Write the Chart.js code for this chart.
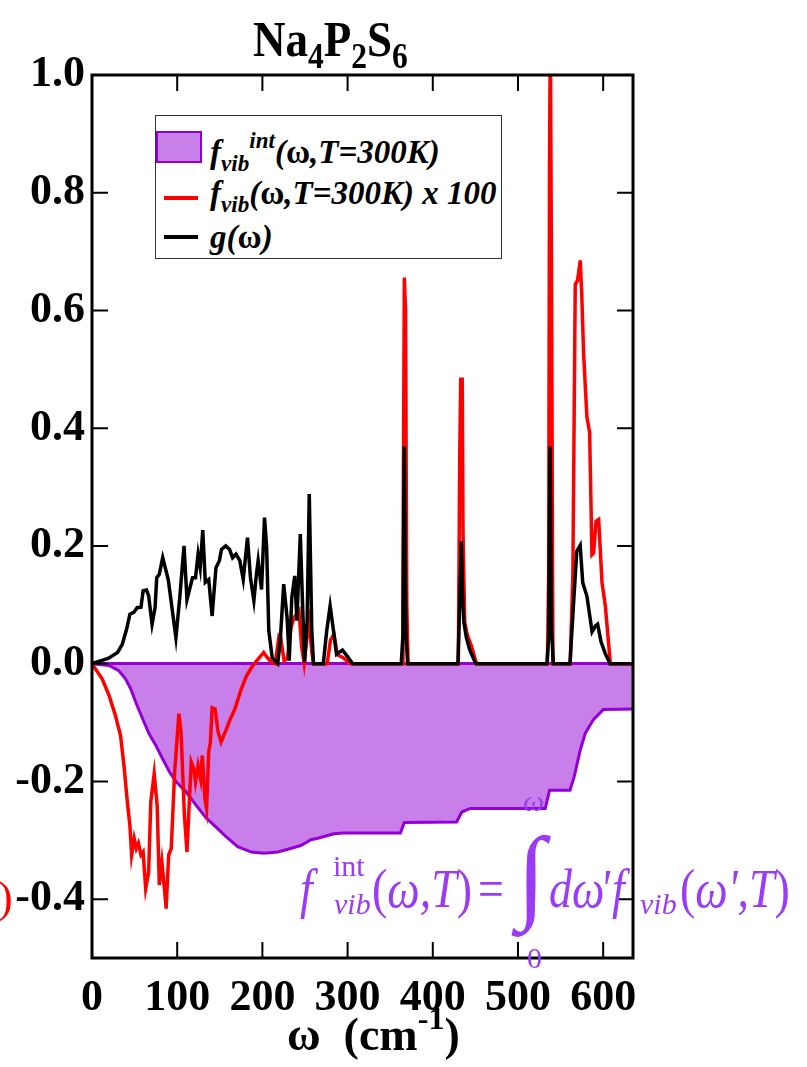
<!DOCTYPE html>
<html>
<head>
<meta charset="utf-8">
<script src="https://cdn.jsdelivr.net/npm/chart.js@4.4.1/dist/chart.umd.min.js"></script>
<style>
  html, body { margin: 0; padding: 0; background: #fff; }
  #wrap { position: relative; width: 807px; height: 1067px; overflow: hidden;
          font-family: "Liberation Serif", "Times New Roman", serif; }
  #chart { position: absolute; left: 0; top: 0; }
  .txt { position: absolute; white-space: nowrap; line-height: 1; }
  sub { font-size: 0.7em; vertical-align: -0.35em; line-height: 0; }
  sup { font-size: 0.7em; vertical-align: 0.65em; line-height: 0; }

  #title { left: 253px; top: 14px; font-size: 50px; font-weight: bold;
           transform: scaleX(0.9); transform-origin: left top; }

  #legend { position: absolute; left: 155px; top: 115px; width: 345px; height: 142px;
            border: 1.5px solid #333; background: #fff; }
  #legend .row { position: absolute; left: 54px; font-size: 33px; font-weight: bold;
                 font-style: italic; white-space: nowrap; line-height: 1; }
  #legend .up { font-style: normal; }
  #legend .swatch { position: absolute; left: 0; top: 15px; width: 42px; height: 28px;
                    background: rgba(148, 0, 211, 0.5); border: 2px solid #9400d3; }
  #legend .ln { position: absolute; left: 8px; width: 34px; height: 4px; }

  .fm { position: absolute; white-space: nowrap; line-height: 1; color: #9a3cf5;
        font-style: italic; font-size: 54px; top: 862px; }
  .fm.cx { transform: scaleX(0.85); transform-origin: left top; }
  .fm.small { font-size: 30px; }
  .fm .n { font-style: normal; }

  #xtitle { left: 287px; top: 1012px; font-size: 46px; font-weight: bold; }
  #redparen { left: -2px; top: 876px; font-size: 44px; color: #ff0000; }
</style>
</head>
<body>
<div id="wrap">
  <canvas id="chart" width="807" height="1067"></canvas>

  <div id="title" class="txt">Na<sub>4</sub>P<sub>2</sub>S<sub>6</sub></div>

  <div id="legend">
    <div class="swatch"></div>
    <div class="row" style="top:20px">f<sub>vib</sub><sup>int</sup>(<span class="up">ω</span>,T=300K)</div>
    <div class="ln" style="top:80px;background:#ff0000"></div>
    <div class="row" style="top:61px">f<sub>vib</sub>(<span class="up">ω</span>,T=300K) x 100</div>
    <div class="ln" style="top:119px;background:#000"></div>
    <div class="row" style="top:105px">g(<span class="up">ω</span>)</div>
  </div>

  <!-- f_vib^int(w,T) = int_0^w dw' f_vib(w',T) -->
  <div class="fm cx" style="left:300px">f</div>
  <div class="fm small" style="left:333px;top:851px"><span class="n">int</span></div>
  <div class="fm small" style="left:334px;top:889px">vib</div>
  <div class="fm cx" style="left:372px"><span class="n">(</span>ω,T<span class="n">)</span></div>
  <div class="fm cx" style="left:478px"><span class="n">=</span></div>
  <div class="fm" style="left:517px;top:822px;font-size:104px">∫</div>
  <div class="fm small" style="left:523px;top:786px">ω</div>
  <div class="fm small" style="left:527px;top:943px"><span class="n">0</span></div>
  <div class="fm cx" style="left:549px">dω</div>
  <div class="fm cx" style="left:600px">'</div>
  <div class="fm cx" style="left:612px">f</div>
  <div class="fm small" style="left:640px;top:889px">vib</div>
  <div class="fm cx" style="left:680px"><span class="n">(</span>ω',T<span class="n">)</span></div>

  <div id="xtitle" class="txt">ω&nbsp; (cm<sup>-1</sup>)</div>
  <div id="redparen" class="txt">)</div>
</div>

<script>
// tick values
const xTicks = [0, 100, 200, 300, 400, 500, 600];
const yTicks = [-0.4, -0.2, 0.0, 0.2, 0.4, 0.6, 0.8, 1.0];

// g(omega) - vibrational density of states
const gOmega = [0, 19, 30, 35.5, 40.5, 44.5, 49, 53, 57.5, 60, 64, 66.5, 70.5, 74, 76, 79, 83, 87, 89.5,
  98.5, 103, 108, 111.5, 118, 121.5, 124.5, 127, 130, 133, 137, 141, 145.5, 149.5, 152, 157, 161.5, 165,
  169, 173.5, 177.5, 182.5, 186, 190, 193, 195, 199, 202.5, 205, 207.5, 211.5, 218, 221, 225, 229, 231.5,
  234.5, 238, 240.5, 244.5, 247, 249.5, 252.5, 255, 258, 260, 271.5, 275.5, 279.5, 283, 287, 294, 300, 306,
  363, 365, 366.5, 368.5, 370.5, 429.5, 431.5, 433.5, 435, 436.5, 439.5, 443.5, 449.5, 451,
  534, 536, 537.7, 539.5, 541.5, 561, 565, 569, 573, 576, 581, 587, 591, 593.5, 597.5, 602.5, 608, 635];
const gValues = [0, 0.009, 0.019, 0.033, 0.058, 0.084, 0.087, 0.095, 0.096, 0.124, 0.125, 0.115, 0.067, 0.095, 0.146, 0.152, 0.18, 0.157, 0.143,
  0.044, 0.112, 0.20, 0.109, 0.146, 0.146, 0.186, 0.163, 0.227, 0.138, 0.143, 0.081, 0.163, 0.175, 0.194, 0.20, 0.194, 0.18,
  0.186, 0.175, 0.143, 0.214, 0.146, 0.107, 0.152, 0.175, 0.126, 0.248, 0.197, 0.056, 0.01, 0, 0.039, 0.135, 0.078, 0.005,
  0.112, 0.149, 0.073, 0.22, 0.107, 0.002, 0.073, 0.288, 0.056, 0, 0, 0.056, 0.098, 0.061, 0.016, 0.023, 0.012, 0,
  0, 0.05, 0.369, 0.05, 0, 0, 0.097, 0.208, 0.117, 0.07, 0.044, 0.023, 0.003, 0,
  0, 0.044, 0.369, 0.057, 0, 0, 0.097, 0.191, 0.201, 0.138, 0.114, 0.054, 0.064, 0.067, 0.037, 0.017, 0, 0];

// f_vib(omega, T=300K) x 100
const fvibOmega = [0, 12, 20, 27.5, 33.5, 37.5, 41.5, 44.5, 46.5, 49.5, 52, 54.5, 57.5, 60, 63, 66.5, 69, 73, 76.5,
  79, 82, 85, 87, 90, 93, 97, 102, 104.5, 108.5, 111.5, 114, 116.5, 119.5, 121.5, 124.5, 127.5, 129.5, 132.5,
  134.5, 137, 139, 141, 144.5, 148, 151.5, 157.5, 162, 167.5, 175, 181, 187, 194.5, 201.5, 206, 211, 215,
  219.5, 221.5, 225.5, 229.5, 233.5, 237, 243, 246, 249, 252, 255, 258, 260, 276, 280, 284, 288, 295, 303,
  364, 365, 366.6, 368, 369.5, 371, 430, 431.6, 432.8, 434.6, 435.5, 437.5, 440.3, 445.4, 451.3,
  534.5, 536, 537, 538, 539.5, 541, 561.3, 564.4, 567.2, 569.9, 573.1, 575, 577, 580.9, 584.1, 586.8, 588.8,
  591.6, 594.7, 598.6, 602.6, 608.4, 635];
const fvibValues = [0, -0.026, -0.054, -0.088, -0.122, -0.173, -0.235, -0.275, -0.325, -0.297, -0.314, -0.305, -0.325, -0.32, -0.382, -0.354, -0.235, -0.187, -0.241,
  -0.376, -0.337, -0.382, -0.416, -0.325, -0.314, -0.184, -0.085, -0.116, -0.258, -0.32, -0.241, -0.167, -0.179, -0.201, -0.173, -0.196, -0.156, -0.229,
  -0.246, -0.15, -0.133, -0.075, -0.077, -0.116, -0.133, -0.112, -0.095, -0.078, -0.044, -0.022, -0.007, 0.007, 0.019, 0.01, 0.002, 0,
  0.047, 0.044, 0.005, 0.01, 0.061, 0.078, 0.09, 0.03, 0, 0.04, 0.07, 0.02, 0, 0, 0.04, 0.05, 0.015, 0.01, 0,
  0, 0.15, 0.656, 0.6, 0.1, 0, 0, 0.35, 0.483, 0.483, 0.22, 0.07, 0.05, 0.03, 0,
  0, 0.15, 0.85, 1.08, 0.6, 0, 0, 0.151, 0.644, 0.651, 0.685, 0.621, 0.527, 0.419, 0.393, 0.185, 0.188,
  0.242, 0.245, 0.138, 0.097, 0, 0];

// f_vib^int(omega, T=300K)
const fintOmega = [0, 20, 31.5, 39.5, 45.5, 51.5, 59.5, 67, 75, 83, 91, 99, 110.5, 122.5, 134.5, 146, 156, 171, 187,
  202, 218, 233, 245, 252.5, 256.5, 264, 284, 295, 362, 366.5, 428, 434, 444, 532, 537, 561, 566, 573, 579,
  588.5, 600, 635];
const fintValues = [0, -0.003, -0.012, -0.026, -0.043, -0.066, -0.094, -0.119, -0.139, -0.162, -0.184, -0.201, -0.218, -0.241, -0.263, -0.278, -0.292, -0.311, -0.32,
  -0.322, -0.32, -0.314, -0.309, -0.303, -0.299, -0.297, -0.289, -0.2875, -0.2875, -0.27, -0.269, -0.252, -0.246, -0.246, -0.215, -0.215, -0.192, -0.147, -0.118,
  -0.095, -0.078, -0.077];

const toPoints = (xs, ys) => xs.map((x, i) => ({ x: x, y: ys[i] }));

const tickFont = { family: "'Liberation Serif', 'Times New Roman', serif", weight: 'bold', size: 44 };

// frame + inward ticks on all four sides
const frameTicks = {
  id: 'frameTicks',
  afterDatasetsDraw(chart) {
    const { ctx, chartArea: a, scales: { x, y } } = chart;
    ctx.save();
    ctx.strokeStyle = '#000';
    ctx.lineWidth = 2;
    ctx.beginPath();
    xTicks.forEach(v => {
      const px = x.getPixelForValue(v);
      ctx.moveTo(px, a.bottom); ctx.lineTo(px, a.bottom - 16);
      ctx.moveTo(px, a.top); ctx.lineTo(px, a.top + 16);
    });
    yTicks.forEach(v => {
      const py = y.getPixelForValue(v);
      ctx.moveTo(a.left, py); ctx.lineTo(a.left + 16, py);
      ctx.moveTo(a.right, py); ctx.lineTo(a.right - 16, py);
    });
    ctx.stroke();
    ctx.lineWidth = 3;
    ctx.strokeRect(a.left, a.top, a.right - a.left, a.bottom - a.top);
    ctx.restore();
  }
};

const ctx = document.getElementById('chart').getContext('2d');
new Chart(ctx, {
  type: 'line',
  data: {
    datasets: [
      {
        label: 'g(ω)',
        data: toPoints(gOmega, gValues),
        borderColor: '#000000',
        borderWidth: 3.5,
        pointRadius: 0,
        fill: false,
        order: 0,
        clip: 0
      },
      {
        label: 'f_vib(ω,T=300K) x 100',
        data: toPoints(fvibOmega, fvibValues),
        borderColor: '#ff0000',
        borderWidth: 3.5,
        pointRadius: 0,
        fill: false,
        order: 1,
        clip: 0
      },
      {
        label: 'f_vib^int(ω,T=300K)',
        data: toPoints(fintOmega, fintValues),
        borderColor: '#9400d3',
        backgroundColor: 'rgba(148, 0, 211, 0.5)',
        borderWidth: 3,
        pointRadius: 0,
        fill: 'origin',
        order: 2,
        clip: 0
      }
    ]
  },
  options: {
    responsive: false,
    animation: false,
    layout: { padding: { left: 0, right: 174, top: 75, bottom: 0 } },
    plugins: {
      legend: { display: false },
      title: { display: false },
      tooltip: { enabled: false }
    },
    scales: {
      x: {
        type: 'linear',
        min: 0,
        max: 635,
        afterBuildTicks: scale => { scale.ticks = xTicks.map(v => ({ value: v })); },
        afterFit: scale => { scale.height = 109; },
        grid: { display: false, drawTicks: false },
        border: { display: false },
        ticks: { font: tickFont, color: '#000', padding: 14, maxRotation: 0 }
      },
      y: {
        type: 'linear',
        min: -0.5,
        max: 1.0,
        afterBuildTicks: scale => { scale.ticks = yTicks.map(v => ({ value: v })); },
        afterFit: scale => { scale.width = 92; },
        grid: {
          drawTicks: false,
          lineWidth: 3,
          color: c => (c.tick && c.tick.value === 0 ? '#9400d3' : 'rgba(0,0,0,0)')
        },
        border: { display: false },
        ticks: {
          font: tickFont,
          color: '#000',
          padding: 7,
          callback: v => v.toFixed(1)
        }
      }
    }
  },
  plugins: [frameTicks]
});
</script>
</body>
</html>
